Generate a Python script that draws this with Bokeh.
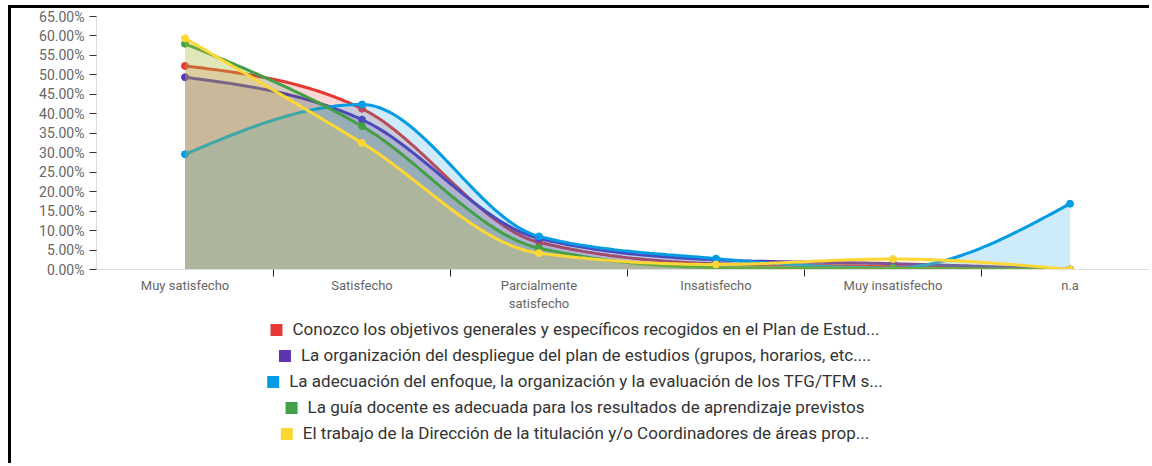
import numpy as np
from bokeh.plotting import figure
from bokeh.models import Range1d, FixedTicker, PrintfTickFormatter, Legend, LegendItem
from bokeh.embed import file_html
from bokeh.resources import INLINE

categories = ["Muy satisfecho", "Satisfecho", "Parcialmente\nsatisfecho",
              "Insatisfecho", "Muy insatisfecho", "n.a"]
y_ticks = [0, 5, 10, 15, 20, 25, 30, 35, 40, 45, 50, 55, 60, 65]

series_names = [
    "Conozco los objetivos generales y específicos recogidos en el Plan de Estud...",
    "La organización del despliegue del plan de estudios (grupos, horarios, etc....",
    "La adecuación del enfoque, la organización y la evaluación de los TFG/TFM s...",
    "La guía docente es adecuada para los resultados de aprendizaje previstos",
    "El trabajo de la Dirección de la titulación y/o Coordinadores de áreas prop...",
]
red = [52.3, 41.3, 7.0, 1.5, 0.8, 0.0]
purple = [49.4, 38.5, 8.0, 2.5, 1.5, 0.0]
blue = [29.6, 42.4, 8.5, 2.8, 0.4, 16.9]
green = [58.0, 36.8, 5.5, 0.5, 0.3, 0.0]
yellow = [59.4, 32.5, 4.2, 1.3, 2.7, 0.0]
series_values = [red, purple, blue, green, yellow]
colors = ["#E53935", "#5E35B1", "#039BE5", "#43A047", "#FDD835"]

FONT = "Roboto"


def monotone_curve(xs, ys, n=40):
    xs = np.asarray(xs, float)
    ys = np.asarray(ys, float)
    h = np.diff(xs)
    s = np.diff(ys) / h
    k = len(xs)
    t = np.zeros(k)
    sg = lambda v: -1.0 if v < 0 else 1.0
    for i in range(1, k - 1):
        s0, s1, h0, h1 = s[i - 1], s[i], h[i - 1], h[i]
        p = (s0 * h1 + s1 * h0) / (h0 + h1)
        t[i] = (sg(s0) + sg(s1)) * min(abs(s0), abs(s1), 0.5 * abs(p))
    t[0] = (3 * s[0] - t[1]) / 2
    t[-1] = (3 * s[-1] - t[-2]) / 2
    outx, outy = [], []
    for i in range(k - 1):
        u = np.linspace(0, 1, n, endpoint=(i == k - 2))
        h00 = 2 * u**3 - 3 * u**2 + 1
        h10 = u**3 - 2 * u**2 + u
        h01 = -2 * u**3 + 3 * u**2
        h11 = u**3 - u**2
        outx.extend(xs[i] + u * h[i])
        outy.extend(h00 * ys[i] + h10 * h[i] * t[i] + h01 * ys[i + 1] + h11 * h[i] * t[i + 1])
    return np.array(outx), np.array(outy)


xpos = list(range(len(categories)))
CAT_W = 177.0
LEFT = 85
W = 1141
FRAME_W = W - LEFT

p = figure(width=W, height=311, min_border_left=LEFT, min_border_top=8,
           min_border_right=0, min_border_bottom=50,
           x_range=Range1d(-0.5, -0.5 + FRAME_W / CAT_W), y_range=Range1d(0, 65),
           toolbar_location=None, output_backend="svg")
p.outline_line_color = None
p.grid.visible = False
p.background_fill_color = "white"
p.styles = {"border-top": "3px solid black", "border-left": "3px solid black",
            "margin-left": "8px", "margin-top": "5px"}

for vals, col in zip(series_values, colors):
    cx, cy = monotone_curve(xpos, vals)
    p.varea(x=cx, y1=0, y2=cy, fill_color=col, fill_alpha=0.2)
    p.line(cx, cy, line_color=col, line_width=3)
    p.scatter(xpos, vals, size=7, fill_color=col, line_color=col)

# y axis
ya = p.yaxis[0]
ya.ticker = FixedTicker(ticks=y_ticks)
ya.formatter = PrintfTickFormatter(format="%.2f%%")
ya.axis_line_color = "#dddddd"
ya.major_tick_line_color = "#333333"
ya.major_tick_out = 7
ya.major_tick_in = 0
ya.minor_tick_line_color = None
ya.major_label_text_font = FONT
ya.major_label_text_font_size = "14px"
ya.major_label_text_color = "#666666"
ya.major_label_standoff = 5

# x axis
xa = p.xaxis[0]
xa.ticker = FixedTicker(ticks=xpos, minor_ticks=[i + 0.5 for i in xpos[:-1]])
xa.major_label_overrides = {i: c for i, c in enumerate(categories)}
xa.axis_line_color = "#dddddd"
xa.major_tick_out = 0
xa.major_tick_in = 0
xa.minor_tick_out = 7
xa.minor_tick_in = 0
xa.minor_tick_line_color = "#222222"
xa.major_label_text_font = FONT
xa.major_label_text_font_size = "13px"
xa.major_label_text_color = "#666666"
xa.major_label_standoff = 1

# legend rows: one small figure per series, each legend centred
roots = [p]
for i, (name, col) in enumerate(zip(series_names, colors)):
    last = i == len(series_names) - 1
    lf = figure(width=W, height=43 if last else 26, min_border=0,
                min_border_right=15, min_border_bottom=17 if last else 0,
                x_range=Range1d(0, 1), y_range=Range1d(0, 1),
                toolbar_location=None, output_backend="svg")
    lf.axis.visible = False
    lf.grid.visible = False
    lf.outline_line_color = None
    lf.styles = {"border-left": "3px solid black", "margin-left": "8px"}
    r = lf.quad(left=[np.nan], right=[np.nan], top=[np.nan], bottom=[np.nan],
                fill_color=col, line_color=None)
    lg = Legend(items=[LegendItem(label=name, renderers=[r])],
                location="center", orientation="horizontal",
                glyph_width=15, glyph_height=15,
                label_standoff=9, padding=3, margin=0, spacing=0,
                label_text_font=FONT, label_text_font_size="17px",
                label_text_color="#333333", label_height=20,
                border_line_color=None, background_fill_alpha=0)
    lf.add_layout(lg, "center")
    roots.append(lf)

open("out.html", "w").write(file_html(roots, INLINE))
